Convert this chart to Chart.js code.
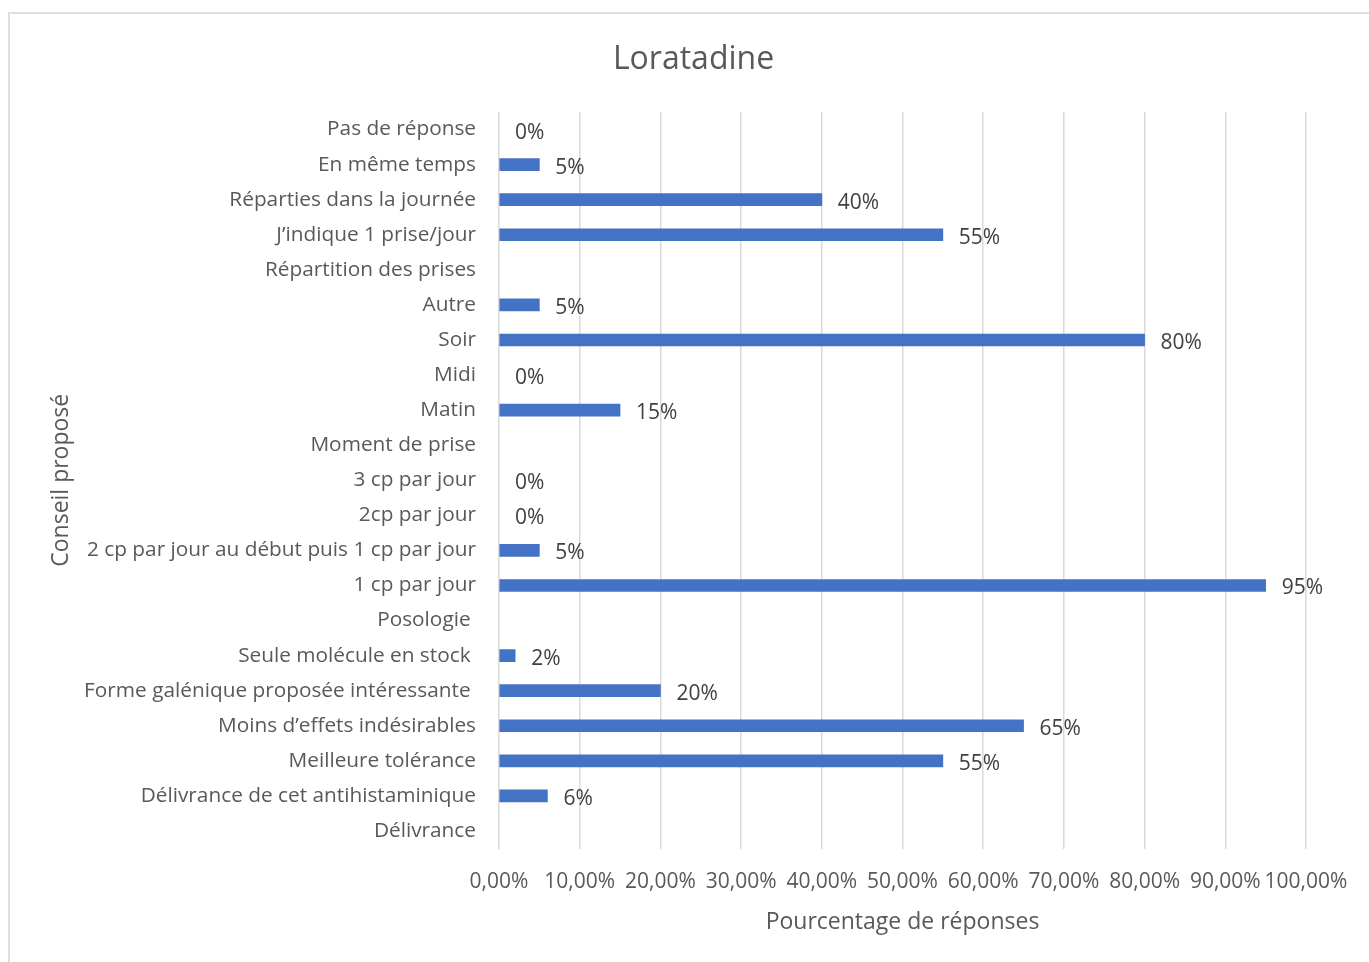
<!DOCTYPE html>
<html>
<head>
<meta charset="utf-8">
<script src="https://cdn.jsdelivr.net/npm/chart.js@4"></script>
<style>
  html, body { margin: 0; padding: 0; background: #fff; overflow: hidden; }
  #frame {
    position: absolute; left: 8px; top: 12px;
    width: 1367px; height: 948px;
    border: 2px solid #dedede;
  }
  #frame canvas { display: block; }
</style>
</head>
<body>
<div id="frame"><canvas id="myChart" width="1367" height="948"></canvas></div>
<script>
const categories = [
    'Pas de réponse',
    'En même temps',
    'Réparties dans la journée',
    'J’indique 1 prise/jour',
    'Répartition des prises',
    'Autre',
    'Soir',
    'Midi',
    'Matin',
    'Moment de prise',
    '3 cp par jour',
    '2cp par jour',
    '2 cp par jour au début puis 1 cp par jour',
    '1 cp par jour',
    'Posologie ',
    'Seule molécule en stock ',
    'Forme galénique proposée intéressante ',
    'Moins d’effets indésirables',
    'Meilleure tolérance',
    'Délivrance de cet antihistaminique',
    'Délivrance'
];
const percentages = [0, 5, 40, 55, null, 5, 80, 0, 15, null, 0, 0, 5, 95, null, 2, 20, 65, 55, 6, null];
const xTicks = [0, 10, 20, 30, 40, 50, 60, 70, 80, 90, 100];

const ctx = document.getElementById('myChart').getContext('2d');

// value labels drawn just past the end of each bar
const barLabels = {
    id: 'barLabels',
    afterDatasetsDraw(chart) {
        const c = chart.ctx;
        const meta = chart.getDatasetMeta(0);
        c.save();
        c.font = '21px "Open Sans"';
        c.fillStyle = '#404040';
        c.textAlign = 'left';
        c.textBaseline = 'middle';
        meta.data.forEach((bar, i) => {
            const v = percentages[i];
            if (v === null) return;
            c.fillText(v + '%', bar.x + 16, bar.y + 3);
        });
        c.restore();
    }
};

const myChart = new Chart(ctx, {
    type: 'bar',
    data: {
        labels: categories,
        datasets: [{
            data: percentages,
            backgroundColor: (c) => c.raw === 0 ? 'rgba(0,0,0,0)' : '#4472C4',
            borderWidth: 0,
            barThickness: 12
        }]
    },
    plugins: [barLabels],
    options: {
        indexAxis: 'y',
        responsive: false,
        animation: false,
        layout: { padding: 0 },
        plugins: {
            legend: { display: false },
            tooltip: { enabled: false },
            title: {
                display: true,
                text: 'Loratadine',
                color: '#595959',
                font: { family: 'Open Sans', size: 32, weight: 'normal' },
                padding: { top: 27, bottom: 32.6 }
            }
        },
        scales: {
            x: {
                min: 0,
                max: 100,
                afterBuildTicks: (scale) => { scale.ticks = xTicks.map(v => ({ value: v })); },
                afterFit: (scale) => { scale.height = 113.5; },
                grid: { color: '#d9d9d9', lineWidth: 1.5, drawTicks: false },
                border: { display: false },
                ticks: {
                    autoSkip: false,
                    maxRotation: 0,
                    padding: 21,
                    color: '#595959',
                    font: { family: 'Open Sans', size: 21 },
                    callback: (v) => v.toFixed(2).replace('.', ',') + '%'
                },
                title: {
                    display: true,
                    text: 'Pourcentage de réponses',
                    color: '#595959',
                    font: { family: 'Open Sans', size: 23 },
                    padding: { top: 0, bottom: 26 }
                }
            },
            y: {
                afterFit: (scale) => { scale.width = 489; },
                grid: { display: false, drawTicks: false },
                border: { display: false },
                ticks: {
                    autoSkip: false,
                    padding: 23,
                    color: '#595959',
                    font: { family: 'Open Sans', size: 20.8 }
                },
                title: {
                    display: true,
                    text: 'Conseil proposé',
                    color: '#595959',
                    font: { family: 'Open Sans', size: 23 },
                    padding: { top: 38, bottom: 0 }
                }
            },
            // empty strip on the right so the plot ends where the reference does
            yRight: {
                position: 'right',
                afterFit: (scale) => { scale.width = 71; },
                grid: { display: false, drawTicks: false },
                border: { display: false },
                ticks: { display: false }
            }
        }
    }
});
</script>
</body>
</html>
